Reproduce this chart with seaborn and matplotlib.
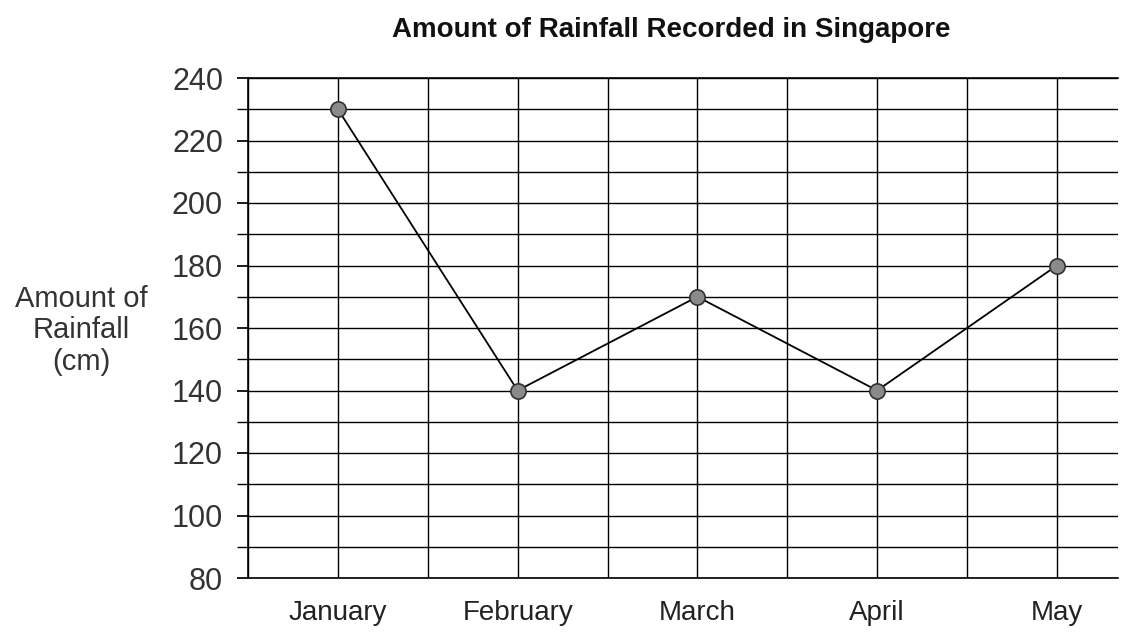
import matplotlib.pyplot as plt
import seaborn as sns
import pandas as pd
import numpy as np
from matplotlib.ticker import MultipleLocator

# data
months = ["January", "February", "March", "April", "May"]
rainfall = [230, 140, 170, 140, 180]

df = pd.DataFrame({"Month": months, "Rainfall": rainfall})

sns.set_theme(style="white")
plt.rcParams['font.family'] = ['Liberation Sans', 'DejaVu Sans']

fig = plt.figure(figsize=(11.4, 6.35), dpi=100)
ax = fig.add_axes([248 / 1140, 1 - 578 / 635, (1118 - 248) / 1140, 500 / 635])

sns.lineplot(data=df, x="Month", y="Rainfall", ax=ax, color="black",
             linewidth=1.3, marker="o", markersize=11,
             markerfacecolor="#8a8a8a", markeredgecolor="#333333",
             markeredgewidth=1.2, zorder=5)

ax.set_ylim(80, 240)
ax.set_xlim(-0.5, 4.34)
ax.yaxis.set_major_locator(MultipleLocator(20))
ax.yaxis.set_minor_locator(MultipleLocator(10))
ax.xaxis.set_minor_locator(MultipleLocator(0.5))

ax.grid(True, which="both", axis="y", color="black", linewidth=1.0)
ax.grid(True, which="both", axis="x", color="black", linewidth=1.0)

for side in ["top", "bottom", "left"]:
    ax.spines[side].set_visible(True)
    ax.spines[side].set_color("black")
    ax.spines[side].set_linewidth(1.2)
ax.spines["right"].set_visible(False)

ax.tick_params(axis="y", which="both", left=True, length=8, color="black",
               labelsize=22, labelcolor="#333333", pad=10)
ax.tick_params(axis="x", which="both", bottom=False, labelsize=20,
               labelcolor="#222222", pad=10)

ax.set_xlabel("")
ax.set_ylabel("Amount of\nRainfall\n(cm)", rotation=0, fontsize=21,
              color="#333333", linespacing=1.15)
ax.yaxis.set_label_coords(-0.192, 0.495)
ax.yaxis.label.set_verticalalignment("center")
ax.yaxis.label.set_horizontalalignment("center")

fig.text(671 / 1140, 1 - 30 / 635, "Amount of Rainfall Recorded in Singapore",
         ha="center", va="center", fontsize=20, fontweight="bold",
         color="#111111")

plt.savefig("out.png", dpi=100, facecolor="white")
